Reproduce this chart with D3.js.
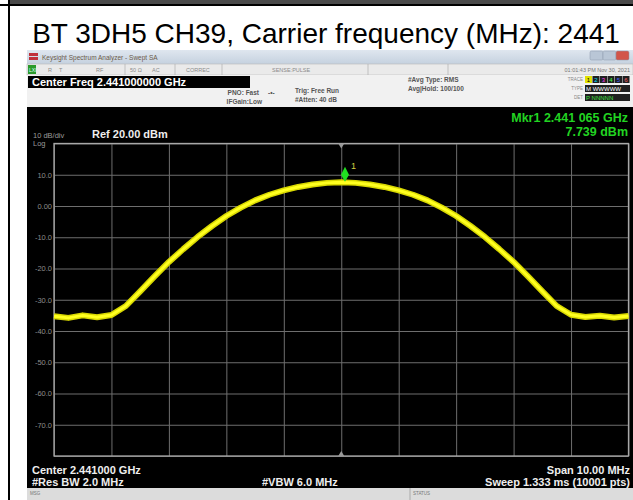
<!DOCTYPE html>
<html>
<head>
<meta charset="utf-8">
<script src="https://cdn.jsdelivr.net/npm/d3@7"></script>
<style>
  body { margin: 0; background: #fff; }
  svg { display: block; font-family: "Liberation Sans", Arial, sans-serif; }
</style>
</head>
<body>
<script>
// trace: offset from center (MHz) and level (dBm)
const centerMHz = 2441;
const freqOffsets = [-5, -4.75, -4.5, -4.25, -4, -3.75, -3.5, -3.25, -3, -2.75, -2.5, -2.25, -2, -1.75, -1.5, -1.25, -1, -0.75, -0.5, -0.25,
  0, 0.25, 0.5, 0.75, 1, 1.25, 1.5, 1.75, 2, 2.25, 2.5, 2.75, 3, 3.25, 3.5, 3.75, 4, 4.25, 4.5, 4.75, 5];
const levels = [-35.3, -35.8, -35.0, -35.6, -34.9, -32.0, -27.3, -22.5, -17.9, -13.8, -9.9, -6.4, -3.2, -0.5, 1.8, 3.6, 5.0, 6.1, 6.9, 7.4,
  7.6, 7.4, 6.9, 6.1, 5.0, 3.6, 1.8, -0.5, -3.2, -6.4, -9.9, -13.8, -17.9, -22.5, -27.3, -32.0, -34.8, -35.5, -35.1, -35.7, -35.2];

const markerFreq = 2441.065;
const markerLevel = 7.739;

const yTicks = [10, 0, -10, -20, -30, -40, -50, -60, -70];
const xGrid = d3.range(0, 11).map(i => 2436 + i);
const yGrid = d3.range(0, 11).map(i => 20 - i * 10);

const width = 633, height = 500;

const svg = d3.select("body").append("svg")
  .attr("width", width)
  .attr("height", height);

svg.append("rect").attr("width", width).attr("height", height).attr("fill", "#fff");

// page frame (table cell borders)
svg.append("rect").attr("x", 10).attr("y", 0).attr("width", width - 10).attr("height", 4).attr("fill", "#4a4a4a");
svg.append("line").attr("x1", 0).attr("x2", width).attr("y1", 5).attr("y2", 5).attr("stroke", "#000").attr("stroke-width", 2);
svg.append("line").attr("x1", 9).attr("x2", 9).attr("y1", 0).attr("y2", height).attr("stroke", "#000").attr("stroke-width", 2);

// title
svg.append("text")
  .attr("x", 326).attr("y", 43)
  .attr("text-anchor", "middle")
  .attr("font-size", 28)
  .attr("fill", "#000")
  .text("BT 3DH5 CH39, Carrier frequency (MHz): " + centerMHz);

// ---- analyzer screenshot ----
const sx = 27;
// window title bar
const grad = svg.append("defs").append("linearGradient").attr("id", "tb").attr("x1", 0).attr("x2", 0).attr("y1", 0).attr("y2", 1);
grad.append("stop").attr("offset", "0%").attr("stop-color", "#dfe6ef");
grad.append("stop").attr("offset", "100%").attr("stop-color", "#c5d1df");
svg.append("rect").attr("x", sx).attr("y", 50).attr("width", width - sx).attr("height", 14).attr("fill", "url(#tb)");
svg.append("rect").attr("x", 29).attr("y", 53).attr("width", 9).attr("height", 3).attr("fill", "#c0303a");
svg.append("rect").attr("x", 29).attr("y", 57).attr("width", 9).attr("height", 3).attr("fill", "#c0303a");
svg.append("text").attr("x", 42).attr("y", 60).attr("font-size", 6.5).attr("fill", "#6b5a4a").text("Keysight Spectrum Analyzer - Swept SA");
[[590, "#b9c6d6"], [603, "#b9c6d6"], [616, "#d2554a"]].forEach(([bx, c]) => {
  svg.append("rect").attr("x", bx).attr("y", 51).attr("width", 13).attr("height", 9).attr("rx", 1.5).attr("fill", c).attr("stroke", "#8a97a8").attr("stroke-width", 0.5);
});

// status row
svg.append("rect").attr("x", sx).attr("y", 64).attr("width", width - sx).attr("height", 11).attr("fill", "#eaeaea").attr("stroke", "#b8b8b8").attr("stroke-width", 0.6);
svg.append("rect").attr("x", 28).attr("y", 65).attr("width", 8).attr("height", 9).attr("fill", "#2a9a2a");
svg.append("text").attr("x", 29).attr("y", 72).attr("font-size", 5).attr("fill", "#dff").text("LXI");
[[125], [175], [222], [368], [448]].forEach(([lx]) => {
  svg.append("line").attr("x1", lx).attr("x2", lx).attr("y1", 64).attr("y2", 75).attr("stroke", "#b0b0b0").attr("stroke-width", 0.7);
});
[["R", 48], ["T", 59], ["RF", 96], ["50 \u03a9", 130], ["AC", 152], ["CORREC", 186], ["SENSE:PULSE", 272]].forEach(([t, tx]) => {
  svg.append("text").attr("x", tx).attr("y", 72).attr("font-size", 5.5).attr("fill", "#8a8a8a").text(t);
});
svg.append("text").attr("x", 630).attr("y", 72).attr("text-anchor", "end").attr("font-size", 5.5).attr("fill", "#777").text("01:01:43 PM Nov 30, 2021");

// settings area
svg.append("rect").attr("x", sx).attr("y", 75).attr("width", width - sx).attr("height", 32).attr("fill", "#f1f1f1");
svg.append("rect").attr("x", 28).attr("y", 76).attr("width", 222).attr("height", 12).attr("fill", "#000");
svg.append("text").attr("x", 32).attr("y", 86).attr("font-size", 11).attr("font-weight", "bold").attr("fill", "#fff").text("Center Freq 2.441000000 GHz");

const info = (t, x, y, anchor) => svg.append("text").attr("x", x).attr("y", y)
  .attr("text-anchor", anchor || "start").attr("font-size", 6.5).attr("font-weight", "bold").attr("fill", "#555").text(t);
info("PNO: Fast", 259, 95, "end");
info("IFGain:Low", 262, 104, "end");
info("-\u2022-", 268, 95);
info("Trig: Free Run", 295, 93);
info("#Atten: 40 dB", 295, 102);
info("#Avg Type: RMS", 408, 82);
info("Avg|Hold: 100/100", 408, 91);

[["TRACE", 81], ["TYPE", 90], ["DET", 99]].forEach(([t, ty]) => {
  svg.append("text").attr("x", 583).attr("y", ty).attr("text-anchor", "end").attr("font-size", 4.5).attr("fill", "#888").text(t);
});
const traceCols = ["#ffff00", "#00e0ff", "#ff40ff", "#40ff40", "#4060ff", "#ff6060"];
traceCols.forEach((c, i) => {
  svg.append("rect").attr("x", 585 + i * 7.5).attr("y", 76).attr("width", 7).attr("height", 7).attr("fill", i === 0 ? "#e0e000" : "#202020");
  svg.append("text").attr("x", 588.5 + i * 7.5).attr("y", 82).attr("text-anchor", "middle").attr("font-size", 6).attr("fill", i === 0 ? "#000" : c).text(i + 1);
});
svg.append("rect").attr("x", 585).attr("y", 85).attr("width", 45).attr("height", 7).attr("fill", "#202020");
svg.append("text").attr("x", 586).attr("y", 91).attr("font-size", 6).attr("fill", "#fff").text("M WWWWW");
svg.append("rect").attr("x", 585).attr("y", 94).attr("width", 45).attr("height", 7).attr("fill", "#202020");
svg.append("text").attr("x", 586).attr("y", 100).attr("font-size", 6).attr("fill", "#40e040").text("P NNNNN");

// display area
svg.append("rect").attr("x", sx).attr("y", 107).attr("width", width - sx).attr("height", 381).attr("fill", "#000");

// bottom message bar
svg.append("rect").attr("x", sx).attr("y", 488).attr("width", width - sx).attr("height", 12).attr("fill", "#dcdcdc");
svg.append("line").attr("x1", 410).attr("x2", 410).attr("y1", 488).attr("y2", 500).attr("stroke", "#aaa");
svg.append("text").attr("x", 30).attr("y", 495).attr("font-size", 4.5).attr("fill", "#777").text("MSG");
svg.append("text").attr("x", 413).attr("y", 495).attr("font-size", 4.5).attr("fill", "#777").text("STATUS");

// scales
const x = d3.scaleLinear().domain([2436, 2446]).range([54, 628.5]);
const y = d3.scaleLinear().domain([-80, 20]).range([456, 143.5]);
const gw = x.range()[1] - x.range()[0];
const gh = y.range()[0] - y.range()[1];

// grid via axes
const gx = svg.append("g").attr("transform", `translate(0,${y(-80)})`)
  .call(d3.axisBottom(x).tickValues(xGrid).tickSize(-gh).tickFormat(""));
const gy = svg.append("g").attr("transform", `translate(${x(2436)},0)`)
  .call(d3.axisLeft(y).tickValues(yGrid).tickSize(-gw).tickFormat(""));
[gx, gy].forEach(g => {
  g.select(".domain").remove();
  g.selectAll("line").attr("stroke", "#6e6e6e").attr("stroke-width", 1);
});
svg.append("rect").attr("x", x(2436)).attr("y", y(20)).attr("width", gw).attr("height", gh)
  .attr("fill", "none").attr("stroke", "#a8a8a8").attr("stroke-width", 1.3);

// center triangles
const cx = x(centerMHz);
svg.append("path").attr("d", `M${cx - 3},${y(20)} L${cx + 3},${y(20)} L${cx},${y(20) + 5}Z`).attr("fill", "#999");
svg.append("path").attr("d", `M${cx - 3},${y(-80)} L${cx + 3},${y(-80)} L${cx},${y(-80) - 5}Z`).attr("fill", "#999");

// y tick labels
const ya = svg.append("g").attr("transform", `translate(52,0)`)
  .call(d3.axisLeft(y).tickValues(yTicks).tickSize(0).tickPadding(0)
    .tickFormat(d => d === 0 ? "0.00" : d.toFixed(1)));
ya.select(".domain").remove();
ya.selectAll("text").attr("font-size", 7.5).attr("fill", "#8c8c8c").attr("font-family", "Liberation Sans, Arial, sans-serif");

// display labels
svg.append("text").attr("x", 33).attr("y", 138).attr("font-size", 7.5).attr("fill", "#9a9a9a").text("10 dB/div");
svg.append("text").attr("x", 33).attr("y", 146).attr("font-size", 7.5).attr("fill", "#9a9a9a").text("Log");
svg.append("text").attr("x", 92).attr("y", 138).attr("font-size", 11).attr("font-weight", "bold").attr("fill", "#eee").text("Ref 20.00 dBm");
svg.append("text").attr("x", 628).attr("y", 122).attr("text-anchor", "end").attr("font-size", 12.5).attr("font-weight", "bold").attr("fill", "#22d422").text("Mkr1 2.441 065 GHz");
svg.append("text").attr("x", 628).attr("y", 136).attr("text-anchor", "end").attr("font-size", 12.5).attr("font-weight", "bold").attr("fill", "#22d422").text(markerLevel.toFixed(3) + " dBm");

const bottomText = (t, x0, y0, anchor) => svg.append("text").attr("x", x0).attr("y", y0)
  .attr("text-anchor", anchor || "start").attr("font-size", 11).attr("font-weight", "bold").attr("fill", "#eee").text(t);
bottomText("Center 2.441000 GHz", 32, 474);
bottomText("#Res BW 2.0 MHz", 32, 486);
bottomText("#VBW 6.0 MHz", 262, 486);
bottomText("Span 10.00 MHz", 630, 474, "end");
bottomText("Sweep  1.333 ms (10001 pts)", 630, 486, "end");

// trace
const pts = freqOffsets.map((f, i) => [centerMHz + f, levels[i]]);
const line = d3.line().x(d => x(d[0])).y(d => y(d[1]));
svg.append("path").datum(pts).attr("d", line)
  .attr("fill", "none").attr("stroke", "#d8d800").attr("stroke-width", 6).attr("stroke-linejoin", "round");
svg.append("path").datum(pts).attr("d", line)
  .attr("fill", "none").attr("stroke", "#ffff20").attr("stroke-width", 3).attr("stroke-linejoin", "round");

// marker
const mx = x(markerFreq), my = y(markerLevel);
svg.append("path").attr("d", `M${mx},${my} L${mx + 4},${my - 7} L${mx},${my - 15} L${mx - 4},${my - 7}Z`).attr("fill", "#20e020");
svg.append("text").attr("x", mx + 6).attr("y", my - 13).attr("font-size", 9).attr("fill", "#d0d040").text("1");
</script>
</body>
</html>
